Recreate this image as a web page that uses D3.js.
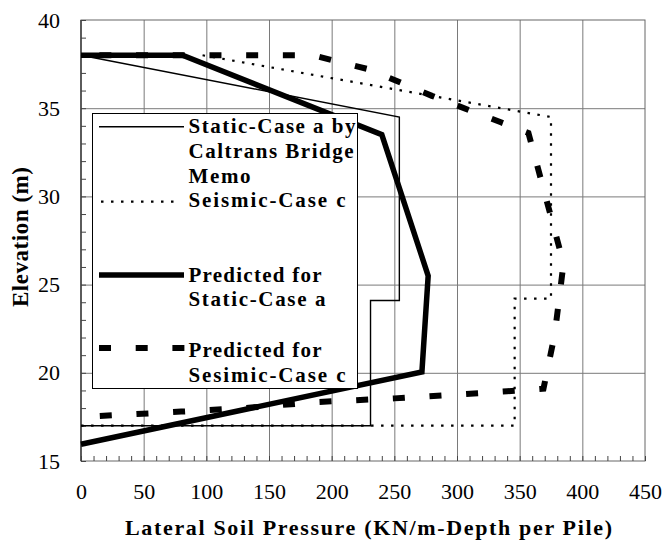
<!DOCTYPE html>
<html>
<head>
<meta charset="utf-8">
<script src="https://cdn.jsdelivr.net/npm/d3@7"></script>
<style>
  html, body { margin: 0; padding: 0; background: #fff; }
  svg { display: block; }
  text { font-family: "Liberation Serif", "Times New Roman", Times, serif; fill: #000; }
</style>
</head>
<body>
<svg id="chart" width="665" height="541"></svg>
<script>
// ---------- data ----------
const xTickValues = [0, 50, 100, 150, 200, 250, 300, 350, 400, 450];
const yTickValues = [15, 20, 25, 30, 35, 40];

// Static-Case a by Caltrans Bridge Memo
const staticMemoP = [0, 254, 254, 231, 231, 0];
const staticMemoE = [38, 34.5, 24.1, 24.1, 17.0, 17.0];

// Seismic-Case c
const seismicMemoP = [97, 375, 375, 346, 346, 0];
const seismicMemoE = [38, 34.5, 24.2, 24.2, 17.0, 17.0];

// Predicted for Static-Case a
const predStaticP = [0, 81, 240, 277, 272, 0];
const predStaticE = [38, 38, 33.5, 25.5, 20.05, 15.95];

// Predicted for Sesimic-Case c
const predSeismicP = [15, 80, 130, 190, 250, 340, 369, 378, 385, 357, 335, 280, 230, 185, 0];
const predSeismicE = [17.55, 17.8, 18.0, 18.35, 18.55, 18.95, 19.1, 22.2, 26.2, 33.6, 34.2, 35.7, 37.2, 38, 38];

const legendLabels = [
  ["Static-Case a by", "Caltrans Bridge", "Memo"],
  ["Seismic-Case c"],
  ["Predicted for", "Static-Case a"],
  ["Predicted for", "Sesimic-Case c"]
];
const xTitle = "Lateral Soil Pressure (KN/m-Depth per Pile)";
const yTitle = "Elevation (m)";

// ---------- layout ----------
const svg = d3.select("#chart");
const L = 81, R = 645, T = 20, B = 461;
const x = d3.scaleLinear().domain([0, 450]).range([L, R]);
const y = d3.scaleLinear().domain([15, 40]).range([B, T]);

// grid
const gridColor = "#7a7a7a";
svg.append("g").attr("transform", `translate(0,${B})`)
  .call(d3.axisBottom(x).tickValues(xTickValues.slice(1, -1)).tickSize(-(B - T)).tickFormat(""))
  .call(g => g.select(".domain").remove())
  .selectAll("line").attr("stroke", gridColor).attr("stroke-width", 1);
svg.append("g").attr("transform", `translate(${L},0)`)
  .call(d3.axisLeft(y).tickValues(yTickValues.slice(1, -1)).tickSize(-(R - L)).tickFormat(""))
  .call(g => g.select(".domain").remove())
  .selectAll("line").attr("stroke", gridColor).attr("stroke-width", 1);

// frame
svg.append("rect").attr("x", L).attr("y", T).attr("width", R - L).attr("height", B - T)
  .attr("fill", "none").attr("stroke", "#666").attr("stroke-width", 1);
svg.append("line").attr("x1", L).attr("x2", L).attr("y1", T).attr("y2", B)
  .attr("stroke", "#222").attr("stroke-width", 1.2);

// minor ticks
svg.append("g").attr("transform", `translate(0,${B})`)
  .call(d3.axisBottom(x).tickValues(d3.range(0, 451, 10)).tickSize(-5).tickFormat(""))
  .call(g => g.select(".domain").remove())
  .selectAll("line").attr("stroke", "#444");
svg.append("g").attr("transform", `translate(${L},0)`)
  .call(d3.axisLeft(y).tickValues(d3.range(15, 41, 1)).tickSize(-5).tickFormat(""))
  .call(g => g.select(".domain").remove())
  .selectAll("line").attr("stroke", "#444");

// tick labels
const xAx = svg.append("g").attr("transform", `translate(0,${B})`)
  .call(d3.axisBottom(x).tickValues(xTickValues).tickSize(0).tickPadding(22).tickFormat(d3.format("d")));
xAx.select(".domain").remove();
xAx.selectAll("text").attr("font-size", 22).attr("fill", "#000");

const yAx = svg.append("g").attr("transform", `translate(${L},0)`)
  .call(d3.axisLeft(y).tickValues(yTickValues).tickSize(0).tickPadding(21).tickFormat(d3.format("d")));
yAx.select(".domain").remove();
yAx.selectAll("text").attr("font-size", 22).attr("fill", "#000");

// titles
svg.append("text").attr("x", 125).attr("y", 535)
  .attr("font-size", 22).attr("font-weight", "bold")
  .attr("textLength", 487).attr("lengthAdjust", "spacing")
  .text(xTitle);
svg.append("text").attr("transform", "translate(28,307) rotate(-90)")
  .attr("font-size", 23).attr("font-weight", "bold")
  .attr("textLength", 140).attr("lengthAdjust", "spacing")
  .text(yTitle);

// series
const line = d3.line().x(d => x(d[0])).y(d => y(d[1]));
const zip = (P, E) => P.map((p, i) => [p, E[i]]);

const styles = {
  memo:     { stroke: "#000", width: 1.4, dash: null },
  seismic:  { stroke: "#000", width: 2.2, dash: "2.5,7.5" },
  pStatic:  { stroke: "#000", width: 5.5, dash: null },
  pSeismic: { stroke: "#000", width: 6, dash: "12,24.7" }
};

function drawSeries(data, s) {
  svg.append("path").datum(data).attr("d", line)
    .attr("fill", "none").attr("stroke", s.stroke).attr("stroke-width", s.width)
    .attr("stroke-linejoin", "miter").attr("stroke-dasharray", s.dash);
}
drawSeries(zip(staticMemoP, staticMemoE), styles.memo);
drawSeries(zip(seismicMemoP, seismicMemoE), styles.seismic);
drawSeries(zip(predStaticP, predStaticE), styles.pStatic);
drawSeries(zip(predSeismicP, predSeismicE), styles.pSeismic);

// legend
const lg = svg.append("g");
lg.append("rect").attr("x", 92.5).attr("y", 113.5).attr("width", 265).attr("height", 275)
  .attr("fill", "#fff").attr("stroke", "#000").attr("stroke-width", 1);

const legendKeys = [
  { style: styles.memo, ly: 126.7, x1: 99, x2: 184, base: [132.7, 158.3, 182.7], widths: [167, 165, 62] },
  { style: styles.seismic, ly: 201.7, x1: 101, x2: 178, base: [207.3], widths: [157] },
  { style: styles.pStatic, ly: 275, x1: 99, x2: 184, base: [281.7, 306], widths: [133, 137] },
  { style: styles.pSeismic, ly: 348, x1: 99, x2: 185, base: [356.7, 381.7], widths: [133, 157] }
];
legendKeys.forEach((k, i) => {
  lg.append("line").attr("x1", k.x1).attr("x2", k.x2).attr("y1", k.ly).attr("y2", k.ly)
    .attr("stroke", k.style.stroke).attr("stroke-width", k.style.width)
    .attr("stroke-dasharray", k.style.dash);
  legendLabels[i].forEach((t, j) => {
    lg.append("text").attr("x", 188.5).attr("y", k.base[j])
      .attr("font-size", 21).attr("font-weight", "bold")
      .attr("textLength", k.widths[j]).attr("lengthAdjust", "spacing")
      .text(t);
  });
});
</script>
</body>
</html>
